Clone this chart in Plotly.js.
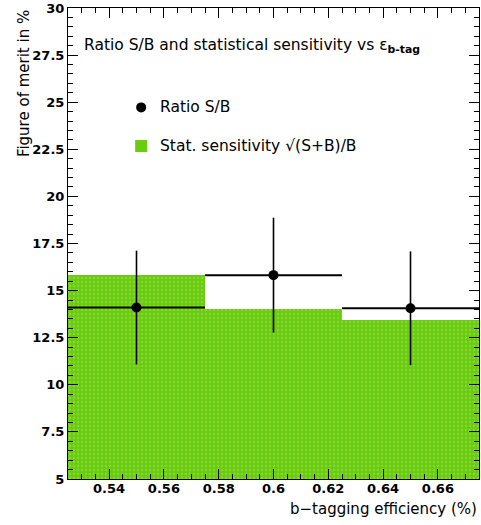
<!DOCTYPE html>
<html>
<head>
<meta charset="utf-8">
<script src="https://cdn.plot.ly/plotly-3.0.1.min.js"></script>
<style>html,body{margin:0;padding:0;background:#fff;}#chart{width:481px;height:525px;}</style>
</head>
<body>
<div id="chart"></div>
<script>
// Data
const binCenters = [0.55, 0.60, 0.65];
const binWidths = [0.05, 0.05, 0.05];
const sensitivity = [15.85, 14.03, 13.46];      // green histogram: sqrt(S+B)/B
const ratioX = [0.55, 0.60, 0.65];
const ratioSB = [14.10, 15.82, 14.06];           // black points: S/B
const ratioErrY = [3.02, 3.05, 3.02];
const ratioErrX = [0.025, 0.025, 0.025];
const xTickVals = [0.54, 0.56, 0.58, 0.60, 0.62, 0.64, 0.66];
const xTickText = ["0.54", "0.56", "0.58", "0.6", "0.62", "0.64", "0.66"];
const yTickVals = [5, 7.5, 10, 12.5, 15, 17.5, 20, 22.5, 25, 27.5, 30];
const yTickText = ["5", "7.5", "10", "12.5", "15", "17.5", "20", "22.5", "25", "27.5", "30"];

const FONT = "DejaVu Sans, Liberation Sans, sans-serif";
const GREEN = "#6acc0e";

const traces = [
  {
    type: "bar",
    x: binCenters,
    y: sensitivity,
    width: binWidths,
    marker: {
      color: GREEN,
      line: {width: 0},
      pattern: {shape: ".", fgcolor: "#a6e06a", size: 4, solidity: 0.25, fillmode: "overlay"}
    },
    showlegend: false,
    hoverinfo: "skip"
  },
  {
    type: "scatter",
    mode: "markers",
    x: ratioX,
    y: ratioSB,
    marker: {color: "#000", size: 10, symbol: "circle"},
    error_y: {type: "data", array: ratioErrY, visible: true, color: "#000", thickness: 1.6, width: 0},
    error_x: {type: "data", array: ratioErrX, visible: true, color: "#000", thickness: 2, width: 0},
    showlegend: false,
    hoverinfo: "skip"
  }
];

const layout = {
  width: 481,
  height: 525,
  margin: {l: 68, r: 2, t: 8, b: 46},
  paper_bgcolor: "#fff",
  plot_bgcolor: "#fff",
  showlegend: false,
  bargap: 0,
  font: {family: FONT, color: "#000"},
  xaxis: {
    range: [0.525, 0.675],
    tickvals: xTickVals,
    ticktext: xTickText,
    ticks: "inside",
    ticklen: 10,
    tickwidth: 1,
    tickcolor: "#000",
    ticklabelstandoff: -3,
    showline: true,
    linecolor: "#000",
    linewidth: 1,
    mirror: "ticks",
    showgrid: false,
    zeroline: false,
    tickfont: {family: FONT, size: 13, weight: "bold", color: "#000"},
    minor: {dtick: 0.005, tick0: 0.525, ticks: "inside", ticklen: 5, tickcolor: "#000", showgrid: false}
  },
  yaxis: {
    range: [5, 30],
    tickvals: yTickVals,
    ticktext: yTickText,
    ticks: "inside",
    ticklen: 10,
    tickwidth: 1,
    tickcolor: "#000",
    showline: true,
    linecolor: "#000",
    linewidth: 1,
    mirror: "ticks",
    showgrid: false,
    zeroline: false,
    tickfont: {family: FONT, size: 13, weight: "bold", color: "#000"},
    minor: {dtick: 0.5, tick0: 5, ticks: "inside", ticklen: 5, tickcolor: "#000", showgrid: false}
  },
  annotations: [
    {
      text: "Ratio S/B and statistical sensitivity vs ε<sub><b>b-tag</b></sub>",
      xref: "paper", yref: "paper", x: 0.034, y: 0.92, xanchor: "left", yanchor: "middle",
      showarrow: false, font: {family: FONT, size: 15.5, color: "#000"}
    },
    {
      text: "Ratio S/B",
      xref: "paper", yref: "paper", x: 0.219, y: 0.789, xanchor: "left", yanchor: "middle",
      showarrow: false, font: {family: FONT, size: 15.5, color: "#000"}
    },
    {
      text: "Stat. sensitivity √(S+B)/B",
      xref: "paper", yref: "paper", x: 0.219, y: 0.707, xanchor: "left", yanchor: "middle",
      showarrow: false, font: {family: FONT, size: 15.5, color: "#000"}
    },
    {
      text: "b−tagging efficiency (%)",
      xref: "paper", yref: "paper", x: 1, y: -0.04, xanchor: "right", yanchor: "top",
      showarrow: false, font: {family: FONT, size: 15, color: "#000"}
    },
    {
      text: "Figure of merit in %",
      xref: "paper", yref: "paper", x: -0.108, y: 1.0, xanchor: "center", yanchor: "top",
      textangle: -90, showarrow: false, font: {family: FONT, size: 15, color: "#000"}
    }
  ],
  shapes: [
    {type: "circle", xref: "paper", yref: "paper", xsizemode: "pixel", ysizemode: "pixel",
     xanchor: 0.178, yanchor: 0.789, x0: -5, x1: 5, y0: -5, y1: 5,
     fillcolor: "#000", line: {width: 0}},
    {type: "rect", xref: "paper", yref: "paper", xsizemode: "pixel", ysizemode: "pixel",
     xanchor: 0.178, yanchor: 0.707, x0: -6, x1: 6, y0: -6, y1: 6,
     fillcolor: GREEN, line: {width: 0}}
  ]
};

Plotly.newPlot("chart", traces, layout, {displayModeBar: false, staticPlot: true});
</script>
</body>
</html>
